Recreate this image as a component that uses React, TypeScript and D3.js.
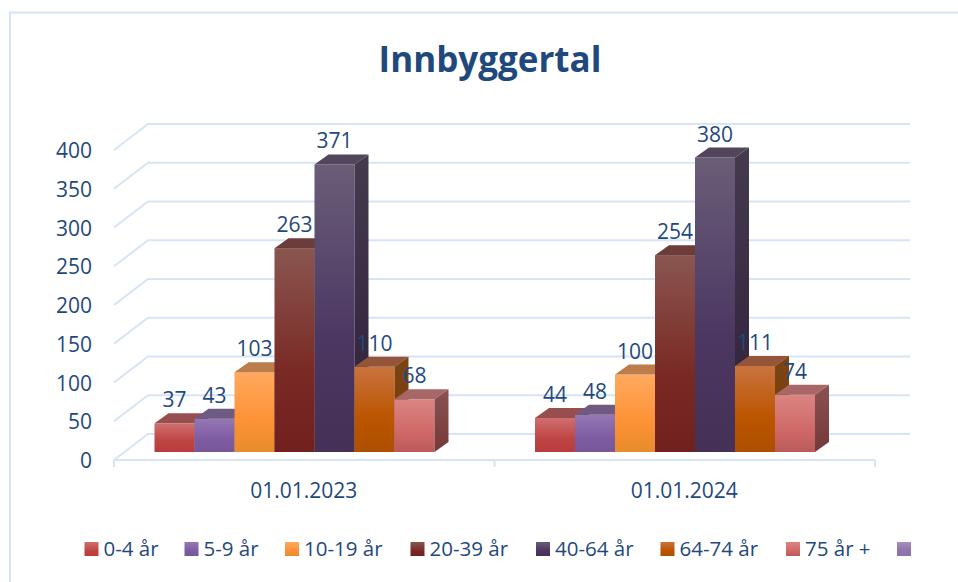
import React from "react";
import * as d3 from "d3";

const categories = ["01.01.2023", "01.01.2024"];
const seriesNames = ["0-4 år", "5-9 år", "10-19 år", "20-39 år", "40-64 år", "64-74 år", "75 år +", ""];
const values2023 = [37, 43, 103, 263, 371, 110, 68, null];
const values2024 = [44, 48, 100, 254, 380, 111, 74, null];
const yTicks = [0, 50, 100, 150, 200, 250, 300, 350, 400];

const gradTop = ["#cf6f6f", "#9578b3", "#ffa95f", "#8a5650", "#6a5d78", "#c9733f", "#da8583", "#a78fbd"];
const gradMid = ["#c04545", "#7f5ca3", "#fd9236", "#7a2a25", "#4c3762", "#bb5500", "#d06a68", "#8f73ad"];
const gradBot = ["#b93c3c", "#775798", "#e88c2c", "#71201e", "#453056", "#ae4f00", "#bb5a5a", "#8f73ad"];
const sideTop = ["#7c3a3a", "#5a4670", "#a9693a", "#5d3633", "#443b4e", "#7c4413", "#8b5050", "#6e5a85"];
const sideBot = ["#7a2c2c", "#54406a", "#a2622a", "#4a1a18", "#2e1f3a", "#783c08", "#743a3a", "#6e5a85"];
const topFace = ["#964f4e", "#6f5a82", "#bd7c4b", "#6c3c3b", "#51465a", "#95553a", "#a66766", "#7c6a90"];

const legendX = [84.5, 184.5, 285, 410.5, 536, 660.5, 786, 897];

const W = 958, H = 582;
const BLUE = "#1f497d";
const GRID = "#d7e4f5";
const FONT = "'Open Sans', sans-serif";

const plotLeft = 114, plotRight = 875, floorY = 460;
const wallDx = 34, wallDy = -26;
const barBaseY = 452, barDx = 14, barDy = -10;

const x0 = d3.scaleBand().domain(categories).range([plotLeft, plotRight]);
const x1 = d3.scaleBand().domain(seriesNames.map((_, i) => String(i)))
  .range([40.5, 360.5]);
const y = d3.scaleLinear().domain([0, 400]).range([0, 310]);

function pts(p: [number, number][]) {
  return p.map((d) => d.join(",")).join(" ");
}

export default function App() {
  const rows = [values2023, values2024];
  return (
    <svg width={W} height={H} style={{ position: "fixed", left: 0, top: 0, background: "#fff" }}>
      <defs>
        {seriesNames.map((_, i) => (
          <React.Fragment key={i}>
            <linearGradient id={`f${i}`} x1="0" y1="0" x2="0" y2="1">
              <stop offset="0" stopColor={gradTop[i]} />
              <stop offset="0.6" stopColor={gradMid[i]} />
              <stop offset="1" stopColor={gradBot[i]} />
            </linearGradient>
            <linearGradient id={`s${i}`} x1="0" y1="0" x2="0" y2="1">
              <stop offset="0" stopColor={sideTop[i]} />
              <stop offset="1" stopColor={sideBot[i]} />
            </linearGradient>
          </React.Fragment>
        ))}
      </defs>

      <path d={`M958,12.5 H10 V582`} fill="none" stroke={GRID} strokeWidth={2} />

      {yTicks.map((t) => {
        const fy = floorY - y(t);
        const by = fy + wallDy;
        return (
          <polyline key={t} points={pts([[plotLeft, fy], [plotLeft + wallDx, by], [910, by]])}
            fill="none" stroke={GRID} strokeWidth={2} />
        );
      })}
      <line x1={plotLeft} x2={plotRight} y1={floorY} y2={floorY} stroke={GRID} strokeWidth={2} />
      {[...categories.map((c) => x0(c)!), plotRight].map((tx) => (
        <line key={tx} x1={tx} x2={tx} y1={floorY} y2={floorY + 7} stroke={GRID} strokeWidth={2} />
      ))}

      {categories.map((c, g) => (
        <g key={c}>
          {rows[g].map((v, i) => {
            if (v == null) return null;
            const bx = x0(c)! + x1(String(i))!;
            const bw = x1.bandwidth();
            const ty = barBaseY - y(v);
            return (
              <g key={i}>
                <rect x={bx} y={ty} width={bw} height={y(v)} fill={`url(#f${i})`} />
                <polygon points={pts([[bx, ty], [bx + barDx, ty + barDy], [bx + bw + barDx, ty + barDy], [bx + bw, ty]])} fill={topFace[i]} />
                <polygon points={pts([[bx + bw, ty], [bx + bw + barDx, ty + barDy], [bx + bw + barDx, barBaseY + barDy], [bx + bw, barBaseY]])} fill={`url(#s${i})`} />
              </g>
            );
          })}
        </g>
      ))}

      {categories.map((c, g) =>
        rows[g].map((v, i) =>
          v == null ? null : (
            <text key={`${g}-${i}`} x={x0(c)! + x1(String(i))! + x1.bandwidth() / 2} y={barBaseY - y(v) - 16}
              textAnchor="middle" fontFamily={FONT} fontSize={21} fill={BLUE}>{v}</text>
          )
        )
      )}

      {yTicks.map((t) => (
        <text key={t} x={92} y={floorY - y(t) + 8} textAnchor="end" fontFamily={FONT} fontSize={21} fill={BLUE}>{t}</text>
      ))}

      {categories.map((c) => (
        <text key={c} x={x0(c)! + x0.bandwidth() / 2 - 0.5} y={497.5} textAnchor="middle" fontFamily={FONT} fontSize={21} fill={BLUE}>{c}</text>
      ))}

      {seriesNames.map((n, i) => (
        <g key={i}>
          <rect x={legendX[i]} y={542} width={14} height={14} fill={`url(#f${i})`} />
          {n && <text x={legendX[i] + 19} y={556} fontFamily={FONT} fontSize={20.5} fill={BLUE}>{n}</text>}
        </g>
      ))}

      <text x={490} y={72} textAnchor="middle" fontFamily={FONT} fontSize={35} fontWeight={700} fill={BLUE}>Innbyggertal</text>
    </svg>
  );
}
